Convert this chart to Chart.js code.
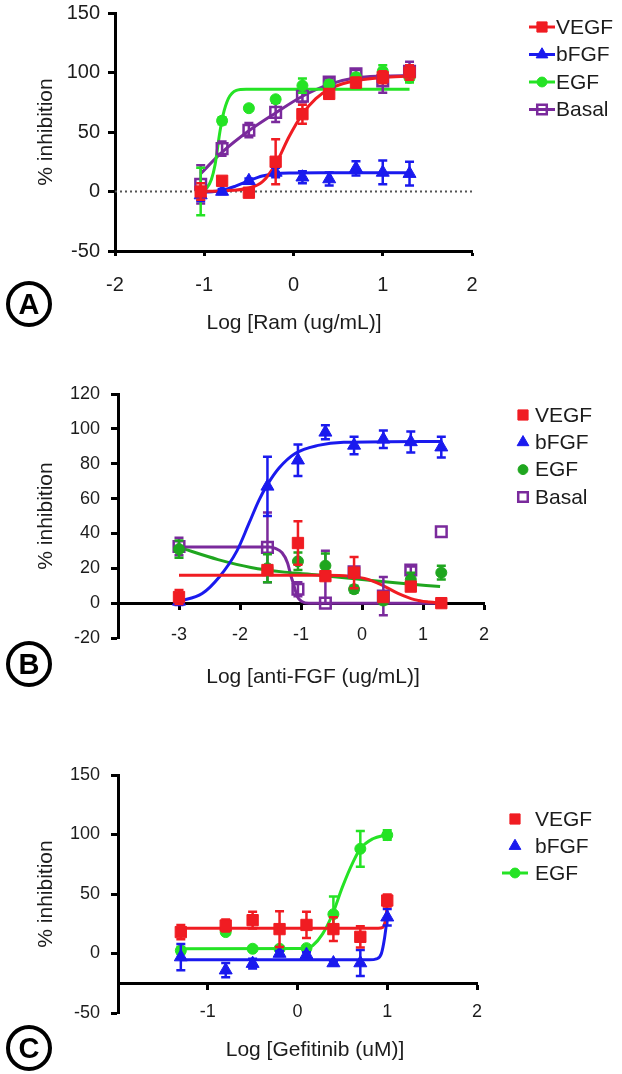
<!DOCTYPE html>
<html><head><meta charset="utf-8">
<script src="https://cdn.jsdelivr.net/npm/chart.js@4.4.1/dist/chart.umd.min.js"></script>
<style>
html,body{margin:0;padding:0;background:#fff;width:622px;height:1074px;overflow:hidden;}
canvas{position:absolute;left:0;}
.tag{position:absolute;left:6px;width:46px;height:46px;border:4px solid #000;border-radius:50%;box-sizing:border-box;
 font:bold 29px "Liberation Sans",Arial,sans-serif;color:#000;display:flex;align-items:center;justify-content:center;line-height:1;}
</style></head><body>
<canvas id="cA" style="top:0" width="622" height="340"></canvas>
<canvas id="cB" style="top:340px" width="622" height="360"></canvas>
<canvas id="cC" style="top:700px" width="622" height="374"></canvas>
<div class="tag" style="top:281px">A</div>
<div class="tag" style="top:641px">B</div>
<div class="tag" style="top:1025px">C</div>
<script>
// ---------- Panel A : Ramucirumab ----------
const namesA = ['VEGF', 'bFGF', 'EGF', 'Basal'];
const xA = [-1.04, -0.8, -0.5, -0.2, 0.1, 0.4, 0.7, 1.0, 1.3];
const vegfA = [0, 9, -1, 25, 65, 82, 91.5, 96, 100];
const vegfErrA = [7, 3, 3, 19, 8, 4, 4, 5, 6];
const bfgfA = [-3, 0, 9, 16, 12, 10.5, 19.5, 16, 15];
const bfgfErrA = [5, 2, 2, 4, 5, 5.5, 6, 10, 10];
const egfA = [0, 59.5, 70, 77.5, 89, 90, 96, 101, 95.5];
const egfErrA = [20, 3, 2, 2, 6, 3, 3, 5, 4];
const basalA = [6, 36, 51.5, 66.5, 80, 92, 99, 93, 101];
const basalErrA = [16, 6, 6, 8, 5, 3, 3, 10, 8];
const vegfCurveXA = [-1.04, -0.8, -0.5, -0.35, -0.2, -0.05, 0.1, 0.25, 0.4, 0.55, 0.7, 1.0, 1.3];
const vegfCurveYA = [0, 0.5, 3, 8, 23, 46, 65, 78, 86, 90.5, 93, 95.7, 97];
const bfgfCurveXA = [-1.04, -0.8, -0.65, -0.5, -0.35, -0.2, 0, 0.3, 1.3];
const bfgfCurveYA = [-1, 1, 4.5, 9, 13, 15, 15.5, 15.7, 15.7];
const egfCurveXA = [-1.04, -0.97, -0.92, -0.88, -0.825, -0.79, -0.73, -0.64, -0.53, 1.3];
const egfCurveYA = [-1, 3, 10, 22, 50, 64, 78, 85, 86, 86];
const basalCurveXA = [-1.04, -0.8, -0.5, -0.2, 0.1, 0.4, 0.7, 1.0, 1.3];
const basalCurveYA = [15, 33, 51, 66, 80, 90, 95.5, 97, 97.5];
const xTicksA = [-2, -1, 0, 1, 2];
const yTicksA = [-50, 0, 50, 100, 150];
const xTitleA = 'Log [Ram (ug/mL)]';

// ---------- Panel B : anti-FGF ----------
const namesB = ['VEGF', 'bFGF', 'EGF', 'Basal'];
const xB = [-3, -1.55, -1.05, -0.6, -0.13, 0.35, 0.8, 1.3];
const vegfB = [3.5, 19, 34.5, 15.5, 17.5, 3.5, 9.5, 0];
const vegfErrB = [4, 2, 12.5, 2, 9, 2, 2, 1];
const bfgfB = [1, 67, 82, 98, 90.5, 94, 92.5, 89.5];
const bfgfErrB = [2, 17, 9, 4, 5, 5, 6, 6];
const egfB = [31, 20, 24, 21.5, 8, 1.5, 13.5, 17.5];
const egfErrB = [5, 8, 5, 7, 2, 2, 4, 4];
const basalB = [32.5, 32, 8, 0, 18, 4, 19, 41];
const basalErrB = [5, 20, 4, [0, 30], 1, 11, 2, 0];
const vegfCurveXB = [-3, -0.6, -0.2, 0.04, 0.32, 0.59, 0.86, 1.1, 1.3];
const vegfCurveYB = [16, 16, 15.5, 14.2, 10.5, 5.6, 2, 0.6, 0];
const bfgfCurveXB = [-3, -2.62, -2.34, -2.05, -1.85, -1.69, -1.55, -1.36, -1.09, -0.72, -0.3, 1.3];
const bfgfCurveYB = [1, 5.5, 15, 30, 46, 59, 68, 77.5, 86, 90.5, 92.3, 92.8];
const egfCurveXB = [-3, -2.36, -1.82, -1.27, -0.72, -0.5, 0.04, 0.59, 1.28];
const egfCurveYB = [32, 25, 20.5, 17.8, 16.2, 15.3, 13.4, 11.5, 9.5];
const basalCurveXB = [-3, -1.52, -1.42, -1.31, -1.22, -1.17, -1.11, -1.06, -0.98, -0.87, 1.3];
const basalCurveYB = [32.2, 32.2, 31.4, 28.9, 23.1, 16.3, 9.5, 3.7, 0.8, 0, 0];
const xTicksB = [-3, -2, -1, 0, 1, 2];
const yTicksB = [-20, 0, 20, 40, 60, 80, 100, 120];
const xTitleB = 'Log [anti-FGF (ug/mL)]';

// ---------- Panel C : Gefitinib ----------
const namesC = ['VEGF', 'bFGF', 'EGF'];
const xC = [-1.3, -0.8, -0.5, -0.2, 0.1, 0.4, 0.7, 1.0];
const vegfC = [18, 23.5, 28, 20.5, 24, 20.5, 14, 44.5];
const vegfErrC = [6, 5, 7, 15, 11, 10, 9, 5];
const bfgfC = [-3, -14, -8.5, 0, -1, -8, -8, 30.5];
const bfgfErrC = [11, 6, 4, 2, 2, 2, 11, 7];
const egfC = [2.5, 18, 4, 4, 4.5, 33, 88, 99.5];
const egfErrC = [3, 2, 2, 2, 2, 15, 15, 4];
const vegfCurveXC = [-1.3, 0.9, 0.95, 0.97, 0.99, 1.0];
const vegfCurveYC = [21.3, 21.3, 22, 25, 33, 44];
const bfgfCurveXC = [-1.3, 0.8, 0.88, 0.935, 0.97, 1.0];
const bfgfCurveYC = [-5.3, -5.3, -4.5, 0, 13, 30.5];
const egfCurveXC = [-1.3, 0.1, 0.17, 0.28, 0.39, 0.5, 0.62, 0.7, 0.84, 1.0];
const egfCurveYC = [3.9, 4.2, 6.7, 16.5, 33, 55.8, 77, 88, 96.4, 100];
const xTicksC = [-1, 0, 1, 2];
const yTicksC = [-50, 0, 50, 100, 150];
const xTitleC = 'Log [Gefitinib (uM)]';

const yTitle = '% inhibition';

// ---------- styling ----------
const FONT = '"Liberation Sans", Arial, Helvetica, sans-serif';
const TXT = '#1c1c1c';
const RED = '#f01c22', BLUE = '#1a1aee', PURPLE = '#7a2a9c';
const GREEN_BRIGHT = '#25e325', GREEN_DARK = '#1fa61f';
Chart.defaults.font.family = FONT;

const pts = (xs, ys) => xs.map((x, i) => ({x: x, y: ys[i]}));

function marker(style) {
  return {
    rect: {pointStyle: 'rect', r: 8, bw: 1},
    triangle: {pointStyle: 'triangle', r: 7.5, bw: 1},
    circle: {pointStyle: 'circle', r: 5.5, bw: 1},
    open: {pointStyle: 'rect', r: 7.5, bw: 2.5}
  }[style];
}

function pointSet(label, xs, ys, errs, color, style) {
  const m = marker(style);
  return {
    label: label, data: pts(xs, ys), errs: errs, showLine: false,
    pointStyle: m.pointStyle, pointRadius: m.r, pointBorderWidth: m.bw,
    borderColor: color, backgroundColor: style === 'open' ? 'rgba(0,0,0,0)' : color,
    pointBackgroundColor: style === 'open' ? 'rgba(0,0,0,0)' : color, pointBorderColor: color
  };
}
function curveSet(xs, ys, color) {
  return {data: pts(xs, ys), showLine: true, pointRadius: 0, borderColor: color, borderWidth: 3,
          cubicInterpolationMode: 'monotone', fill: false};
}

function drawMarker(ctx, it, x, y) {
  const m = marker(it.style);
  ctx.save();
  ctx.fillStyle = it.style === 'open' ? 'rgba(0,0,0,0)' : it.color;
  ctx.strokeStyle = it.color;
  ctx.lineWidth = m.bw;
  Chart.helpers.drawPoint(ctx, {pointStyle: m.pointStyle, radius: m.r * 0.9, rotation: 0, borderWidth: m.bw}, x, y);
  ctx.restore();
}

const errorBars = {
  id: 'errorBars',
  beforeDatasetDraw(chart, args) {
    const ds = chart.data.datasets[args.index];
    if (!ds.errs) return;
    const ys = chart.scales.y, ctx = chart.ctx, a = chart.chartArea;
    ctx.save();
    ctx.beginPath(); ctx.rect(a.left, a.top - 20, a.right - a.left, a.bottom - a.top + 20); ctx.clip();
    ctx.strokeStyle = ds.borderColor; ctx.lineWidth = 2.5;
    ds.data.forEach((p, i) => {
      const e = ds.errs[i];
      if (!e) return;
      const lo = Array.isArray(e) ? e[0] : e, hi = Array.isArray(e) ? e[1] : e;
      const x = args.meta.data[i].x;
      const y1 = ys.getPixelForValue(p.y - lo), y2 = ys.getPixelForValue(p.y + hi);
      ctx.beginPath();
      ctx.moveTo(x, y1); ctx.lineTo(x, y2);
      if (lo) { ctx.moveTo(x - 4.5, y1); ctx.lineTo(x + 4.5, y1); }
      if (hi) { ctx.moveTo(x - 4.5, y2); ctx.lineTo(x + 4.5, y2); }
      ctx.stroke();
    });
    ctx.restore();
  }
};

const decor = {
  id: 'decor',
  afterDraw(chart, args, o) {
    const ctx = chart.ctx;
    ctx.save();
    ctx.font = '21px ' + FONT;
    ctx.fillStyle = TXT;
    ctx.textAlign = 'center'; ctx.textBaseline = 'middle';
    ctx.fillText(o.xTitle, o.xTitleX, o.xTitleY);
    o.items.forEach((it, i) => {
      const y = o.legY + i * o.legDy;
      if (it.line) {
        ctx.strokeStyle = it.color; ctx.lineWidth = 3;
        ctx.beginPath(); ctx.moveTo(o.legMX - 13, y); ctx.lineTo(o.legMX + 13, y); ctx.stroke();
      }
      drawMarker(ctx, it, o.legMX, y);
      ctx.fillStyle = TXT; ctx.textAlign = 'left';
      ctx.fillText(it.label, o.legTX, y + 1);
    });
    ctx.restore();
  }
};

function build(id, p) {
  const zero = s => { s.paddingLeft = 0; s.paddingRight = 0; s.paddingTop = 0; s.paddingBottom = 0; };
  new Chart(document.getElementById(id), {
    type: 'scatter',
    data: {datasets: p.datasets},
    plugins: [errorBars, decor],
    options: {
      responsive: false, animation: false, events: [],
      layout: {padding: {top: p.top, right: 622 - p.right, bottom: p.padBottom, left: 0}},
      scales: {
        x: {
          type: 'linear', position: p.xPos, min: p.xMin, max: p.xMax,
          afterBuildTicks: s => { s.ticks = p.xTicks.map(v => ({value: v})); },
          afterFit: s => { zero(s); if (p.xPos === 'bottom') s.height = p.xHeight; },
          ticks: {color: TXT, font: {size: p.tickSize}, padding: p.xPad, maxRotation: 0, autoSkip: false,
                  callback: v => String(v)},
          grid: {display: true, drawOnChartArea: false, drawTicks: true, tickLength: 5, tickWidth: 3, tickColor: '#000'},
          border: {display: true, color: '#000', width: 3}
        },
        y: {
          type: 'linear', position: 'left', min: p.yMin, max: p.yMax,
          afterBuildTicks: s => { s.ticks = p.yTicks.map(v => ({value: v})); },
          afterFit: s => { zero(s); s.width = p.left; },
          ticks: {color: TXT, font: {size: p.tickSize}, padding: p.yPad, callback: v => String(v)},
          grid: {display: true, drawOnChartArea: false, drawTicks: true, tickLength: 7, tickWidth: 3, tickColor: '#000'},
          border: {display: true, color: '#000', width: 3},
          title: {display: true, text: yTitle, color: TXT, font: {size: 21}, padding: {top: 34, bottom: 0}}
        }
      },
      plugins: {
        legend: {display: false}, tooltip: {enabled: false},
        decor: p.decor
      }
    }
  });
}

// Panel A
build('cA', {
  left: 115, right: 472, top: 13, padBottom: 0, xHeight: 89, xPos: 'bottom',
  xMin: -2, xMax: 2, yMin: -50, yMax: 150, xTicks: xTicksA, yTicks: yTicksA,
  tickSize: 20, xPad: 17, yPad: 8,
  datasets: [
    pointSet(namesA[0], xA, vegfA, vegfErrA, RED, 'rect'),
    pointSet(namesA[1], xA, bfgfA, bfgfErrA, BLUE, 'triangle'),
    pointSet(namesA[2], xA, egfA, egfErrA, GREEN_BRIGHT, 'circle'),
    pointSet(namesA[3], xA, basalA, basalErrA, PURPLE, 'open'),
    curveSet(vegfCurveXA, vegfCurveYA, RED),
    curveSet(bfgfCurveXA, bfgfCurveYA, BLUE),
    curveSet(egfCurveXA, egfCurveYA, GREEN_BRIGHT),
    curveSet(basalCurveXA, basalCurveYA, PURPLE),
    {data: [{x: -2, y: 0}, {x: 2, y: 0}], showLine: true, pointRadius: 0, borderColor: '#555',
     borderWidth: 2, borderDash: [2, 3]}
  ],
  decor: {
    xTitle: xTitleA, xTitleX: 294, xTitleY: 323,
    legY: 27, legDy: 27.5, legMX: 542, legTX: 556,
    items: [
      {label: namesA[0], color: RED, style: 'rect', line: true},
      {label: namesA[1], color: BLUE, style: 'triangle', line: true},
      {label: namesA[2], color: GREEN_BRIGHT, style: 'circle', line: true},
      {label: namesA[3], color: PURPLE, style: 'open', line: true}
    ]
  }
});

// Panel B
build('cB', {
  left: 118, right: 484, top: 54, padBottom: 62, xPos: {y: 0},
  xMin: -4, xMax: 2, yMin: -20, yMax: 120, xTicks: xTicksB, yTicks: yTicksB,
  tickSize: 18, xPad: 16, yPad: 11,
  datasets: [
    pointSet(namesB[0], xB, vegfB, vegfErrB, RED, 'rect'),
    pointSet(namesB[1], xB, bfgfB, bfgfErrB, BLUE, 'triangle'),
    pointSet(namesB[2], xB, egfB, egfErrB, GREEN_DARK, 'circle'),
    pointSet(namesB[3], xB, basalB, basalErrB, PURPLE, 'open'),
    curveSet(vegfCurveXB, vegfCurveYB, RED),
    curveSet(bfgfCurveXB, bfgfCurveYB, BLUE),
    curveSet(egfCurveXB, egfCurveYB, GREEN_DARK),
    curveSet(basalCurveXB, basalCurveYB, PURPLE)
  ],
  decor: {
    xTitle: xTitleB, xTitleX: 313, xTitleY: 337,
    legY: 75, legDy: 27.3, legMX: 523, legTX: 535,
    items: [
      {label: namesB[0], color: RED, style: 'rect', line: false},
      {label: namesB[1], color: BLUE, style: 'triangle', line: false},
      {label: namesB[2], color: GREEN_DARK, style: 'circle', line: false},
      {label: namesB[3], color: PURPLE, style: 'open', line: false}
    ]
  }
});

// Panel C
build('cC', {
  left: 118, right: 477, top: 75, padBottom: 61, xPos: {y: -25},
  xMin: -2, xMax: 2, yMin: -50, yMax: 150, xTicks: xTicksC, yTicks: yTicksC,
  tickSize: 18, xPad: 13, yPad: 11,
  datasets: [
    pointSet(namesC[0], xC, vegfC, vegfErrC, RED, 'rect'),
    pointSet(namesC[1], xC, bfgfC, bfgfErrC, BLUE, 'triangle'),
    pointSet(namesC[2], xC, egfC, egfErrC, GREEN_BRIGHT, 'circle'),
    curveSet(vegfCurveXC, vegfCurveYC, RED),
    curveSet(bfgfCurveXC, bfgfCurveYC, BLUE),
    curveSet(egfCurveXC, egfCurveYC, GREEN_BRIGHT)
  ],
  decor: {
    xTitle: xTitleC, xTitleX: 315, xTitleY: 350,
    legY: 119, legDy: 27, legMX: 515, legTX: 535,
    items: [
      {label: namesC[0], color: RED, style: 'rect', line: false},
      {label: namesC[1], color: BLUE, style: 'triangle', line: false},
      {label: namesC[2], color: GREEN_BRIGHT, style: 'circle', line: true}
    ]
  }
});
</script>
</body></html>
